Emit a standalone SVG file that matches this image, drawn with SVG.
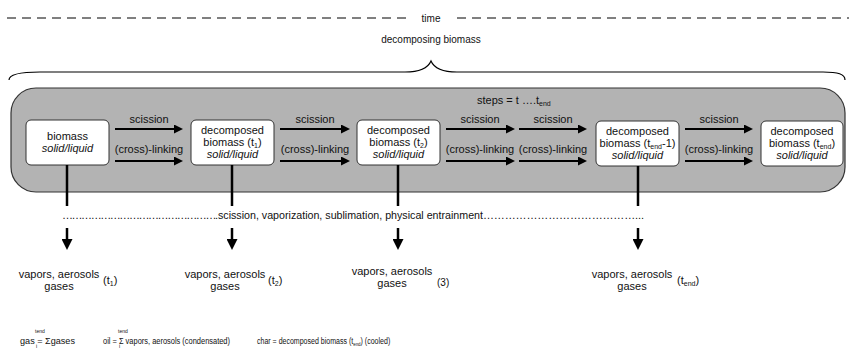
<svg xmlns="http://www.w3.org/2000/svg" width="849" height="348" viewBox="0 0 849 348">
<style>
text{font-family:"Liberation Sans",Arial,sans-serif;fill:#111;}
.lbl{font-size:11px;text-anchor:middle;}
.it{font-style:italic;}
.sub{font-size:7px;}
.box{fill:#fff;stroke:#333;stroke-width:1;}
.arr{stroke:#000;stroke-width:2;fill:none;}
.vl{stroke:#000;stroke-width:2.5;fill:none;}
.small{font-size:9px;}
.tiny{font-size:5px;}
</style>
<defs>
<marker id="ah" markerWidth="9" markerHeight="9" refX="0" refY="4.5" orient="auto" markerUnits="userSpaceOnUse"><path d="M0,0 L9,4.5 L0,9 z" fill="#000"/></marker>
<marker id="ahd" markerWidth="11" markerHeight="11" refX="0" refY="5.5" orient="auto" markerUnits="userSpaceOnUse"><path d="M0,0 L11,5.5 L0,11 z" fill="#000"/></marker>
</defs>
<rect width="849" height="348" fill="#fff"/>

<g id="timeline">
<line x1="7" y1="18" x2="411" y2="18" stroke="#000" stroke-width="1" stroke-dasharray="9,6"/>
<text x="431" y="22" class="lbl" style="font-size:10px">time</text>
<line x1="457" y1="18" x2="849" y2="18" stroke="#000" stroke-width="1" stroke-dasharray="9,6"/>
</g>

<g id="brace">
<text x="431" y="43" class="lbl" style="font-size:10px">decomposing biomass</text>
<path d="M9,80 C9,74 20,72 40,72 L405,72 C420,72 428,68 431,61 C434,68 442,72 457,72 L823,72 C838,72 845,74 845,80" fill="none" stroke="#000" stroke-width="1.2"/>
</g>

<g id="process">
<rect x="11" y="88" width="834" height="104" rx="25" ry="25" fill="#b3b3b3" stroke="#333" stroke-width="1.2"/>
<text x="477" y="104" style="font-size:11px">steps = t ….t<tspan class="sub" dy="2">end</tspan></text>
</g>

<g id="n1">
<rect class="box" x="26" y="120" width="83" height="45" rx="5"/>
<text class="lbl" x="67.5" y="140">biomass</text>
<text class="lbl it" x="67.5" y="152">solid/liquid</text>
</g>
<g id="n2">
<rect class="box" x="191" y="120" width="83" height="45" rx="5"/>
<text class="lbl" x="232.5" y="134">decomposed</text>
<text class="lbl" x="232.5" y="146">biomass (t<tspan class="sub" dy="2">1</tspan><tspan dy="-2">)</tspan></text>
<text class="lbl it" x="232.5" y="158">solid/liquid</text>
</g>
<g id="n3">
<rect class="box" x="357" y="120" width="83" height="45" rx="5"/>
<text class="lbl" x="398.5" y="134">decomposed</text>
<text class="lbl" x="398.5" y="146">biomass (t<tspan class="sub" dy="2">2</tspan><tspan dy="-2">)</tspan></text>
<text class="lbl it" x="398.5" y="158">solid/liquid</text>
</g>
<g id="n4">
<rect class="box" x="596" y="121" width="83" height="45" rx="5"/>
<text class="lbl" x="637.5" y="135">decomposed</text>
<text class="lbl" x="637.5" y="147">biomass (t<tspan class="sub" dy="2">end</tspan><tspan dy="-2">-1)</tspan></text>
<text class="lbl it" x="637.5" y="159">solid/liquid</text>
</g>
<g id="n5">
<rect class="box" x="761" y="121" width="82" height="45" rx="5"/>
<text class="lbl" x="802" y="135">decomposed</text>
<text class="lbl" x="802" y="147">biomass (t<tspan class="sub" dy="2">end</tspan><tspan dy="-2">)</tspan></text>
<text class="lbl it" x="802" y="159">solid/liquid</text>
</g>

<g id="connectors">
<line class="arr" x1="115" y1="129" x2="174" y2="129" marker-end="url(#ah)"/>
<line class="arr" x1="115" y1="161" x2="174" y2="161" marker-end="url(#ah)"/>
<line class="arr" x1="280" y1="129" x2="341" y2="129" marker-end="url(#ah)"/>
<line class="arr" x1="280" y1="161" x2="341" y2="161" marker-end="url(#ah)"/>
<line class="arr" x1="446" y1="129" x2="506" y2="129" marker-end="url(#ah)"/>
<line class="arr" x1="446" y1="161" x2="506" y2="161" marker-end="url(#ah)"/>
<line class="arr" x1="519" y1="129" x2="578" y2="129" marker-end="url(#ah)"/>
<line class="arr" x1="519" y1="161" x2="578" y2="161" marker-end="url(#ah)"/>
<line class="arr" x1="685" y1="129" x2="744" y2="129" marker-end="url(#ah)"/>
<line class="arr" x1="685" y1="161" x2="744" y2="161" marker-end="url(#ah)"/>

<line class="vl" x1="67" y1="165" x2="67" y2="206"/>
<line class="vl" x1="232" y1="165" x2="232" y2="206"/>
<line class="vl" x1="398" y1="165" x2="398" y2="206"/>
<line class="vl" x1="638" y1="166" x2="638" y2="206"/>

<line class="vl" x1="67" y1="228" x2="67" y2="239" marker-end="url(#ahd)"/>
<line class="vl" x1="232" y1="228" x2="232" y2="239" marker-end="url(#ahd)"/>
<line class="vl" x1="398" y1="228" x2="398" y2="239" marker-end="url(#ahd)"/>
<line class="vl" x1="638" y1="228" x2="638" y2="239" marker-end="url(#ahd)"/>
</g>

<g id="arrow-labels">
<text class="lbl" x="149" y="123">scission</text>
<text class="lbl" x="149" y="153">(cross)-linking</text>
<text class="lbl" x="315" y="123">scission</text>
<text class="lbl" x="315" y="153">(cross)-linking</text>
<text class="lbl" x="480" y="123">scission</text>
<text class="lbl" x="480" y="153">(cross)-linking</text>
<text class="lbl" x="553" y="123">scission</text>
<text class="lbl" x="553" y="153">(cross)-linking</text>
<text class="lbl" x="719" y="123">scission</text>
<text class="lbl" x="719" y="153">(cross)-linking</text>
</g>

<g id="process-line">
<text x="62" y="219" style="font-size:11px"><tspan textLength="156" lengthAdjust="spacing">………………………………………….</tspan><tspan x="218" textLength="265" lengthAdjust="spacingAndGlyphs">scission, vaporization, sublimation, physical entrainment</tspan><tspan x="483" textLength="161" lengthAdjust="spacing">……………………………………...</tspan></text>
</g>

<g id="p1">
<text class="lbl" x="59" y="278">vapors, aerosols</text>
<text class="lbl" x="59" y="290">gases</text>
<text x="103" y="284" style="font-size:11px">(t<tspan class="sub" dy="2">1</tspan><tspan dy="-2">)</tspan></text>
</g>
<g id="p2">
<text class="lbl" x="225" y="278">vapors, aerosols</text>
<text class="lbl" x="225" y="290">gases</text>
<text x="268" y="284" style="font-size:11px">(t<tspan class="sub" dy="2">2</tspan><tspan dy="-2">)</tspan></text>
</g>
<g id="p3">
<text class="lbl" x="392" y="275">vapors, aerosols</text>
<text class="lbl" x="392" y="287">gases</text>
<text x="437" y="286" style="font-size:10px">(3)</text>
</g>
<g id="p4">
<text class="lbl" x="632" y="278">vapors, aerosols</text>
<text class="lbl" x="632" y="290">gases</text>
<text x="677" y="284" style="font-size:11px">(t<tspan class="sub" dy="2">end</tspan><tspan dy="-2">)</tspan></text>
</g>

<g id="formulas">
<text x="20" y="344" class="small" textLength="55" lengthAdjust="spacingAndGlyphs">gas = Σgases</text>
<text x="35" y="333" class="tiny">tend</text>
<text x="36" y="348" class="tiny">i</text>
<text x="103" y="344" class="small" textLength="127" lengthAdjust="spacingAndGlyphs">oil = Σ vapors, aerosols (condensated)</text>
<text x="118" y="333" class="tiny">tend</text>
<text x="119" y="348" class="tiny">i</text>
<g transform="translate(257,344) scale(0.74,1)">
<text x="0" y="0" style="font-size:9.5px">char = decomposed biomass (t<tspan style="font-size:6px" dy="2">end</tspan><tspan dy="-2">) (cooled)</tspan></text>
</g>
</g>
</svg>
